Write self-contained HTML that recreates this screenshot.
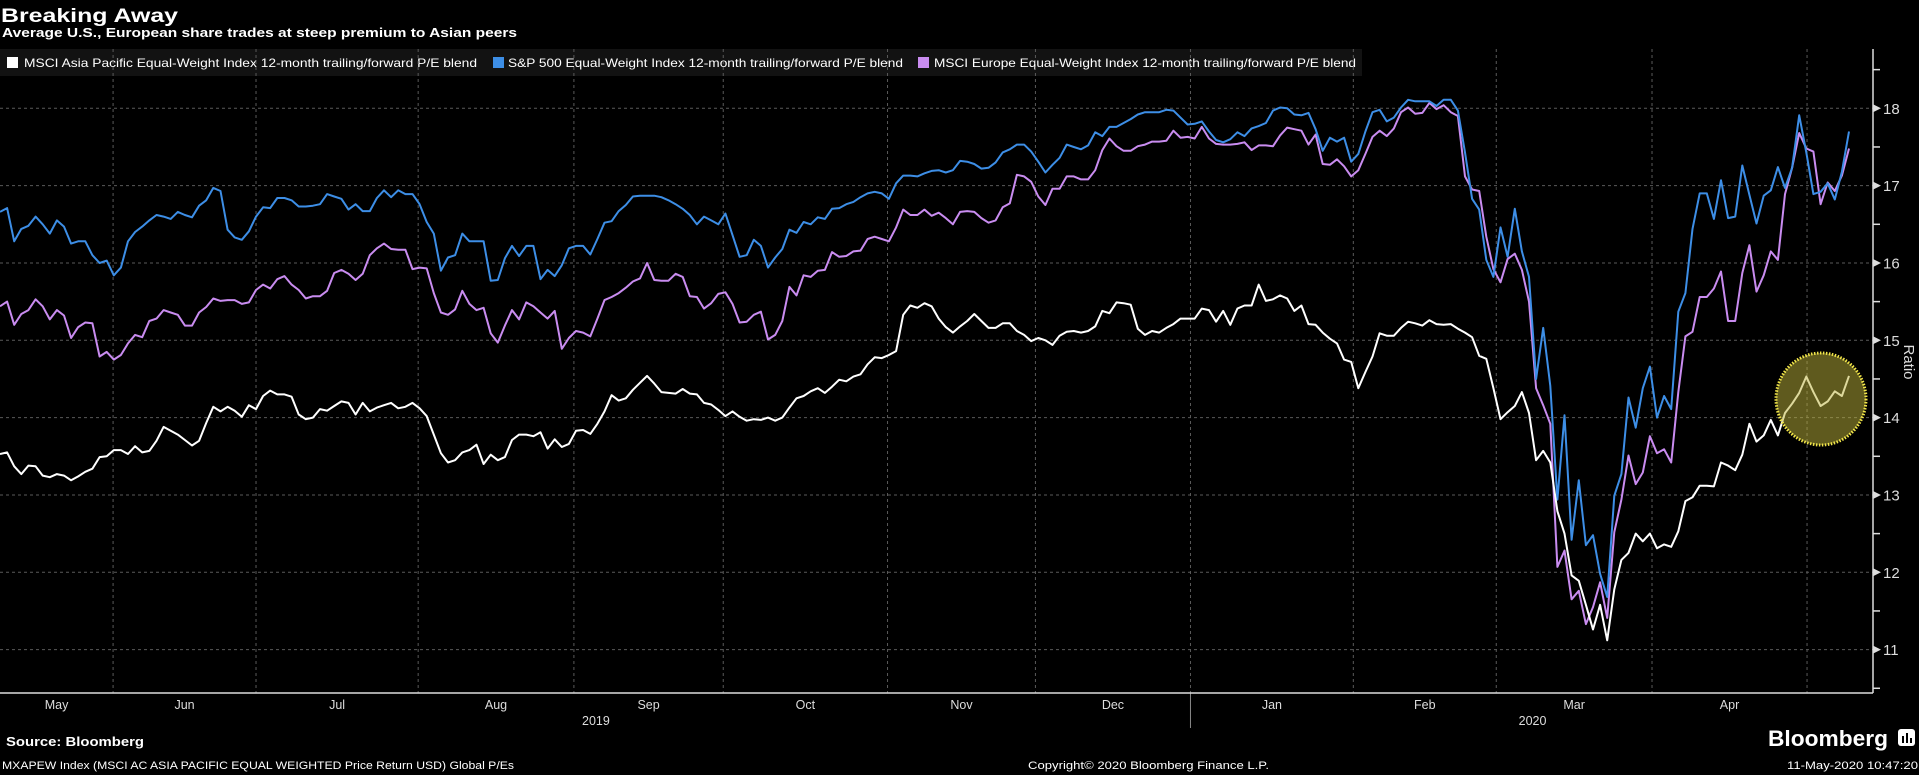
<!DOCTYPE html>
<html><head><meta charset="utf-8"><style>
html,body{margin:0;padding:0;background:#000;}
svg{display:block;}
text{font-family:"Liberation Sans",sans-serif;}
</style></head><body>
<svg id="chart" xmlns="http://www.w3.org/2000/svg" width="1919" height="775" viewBox="0 0 1919 775">
<rect x="0" y="0" width="1919" height="775" fill="#000"/>
<text x="1" y="22" font-size="19" font-weight="bold" fill="#fff" textLength="177" lengthAdjust="spacingAndGlyphs">Breaking Away</text>
<text x="2" y="37" font-size="12.5" font-weight="bold" fill="#fff" textLength="515" lengthAdjust="spacingAndGlyphs">Average U.S., European share trades at steep premium to Asian peers</text>
<g>
<rect x="0" y="49" width="1362" height="27" fill="#121212"/>
<g>
<rect x="7" y="57" width="11" height="11" fill="#fff"/>
<text x="24" y="67" font-size="12" fill="#fff" textLength="453" lengthAdjust="spacingAndGlyphs">MSCI Asia Pacific Equal-Weight Index 12-month trailing/forward P/E blend</text></g>
<g>
<rect x="493" y="57" width="11" height="11" fill="#3d8ee6"/>
<text x="508" y="67" font-size="12" fill="#fff" textLength="395" lengthAdjust="spacingAndGlyphs">S&amp;P 500 Equal-Weight Index 12-month trailing/forward P/E blend</text></g>
<g>
<rect x="918" y="57" width="11" height="11" fill="#c98cf0"/>
<text x="934" y="67" font-size="12" fill="#fff" textLength="422" lengthAdjust="spacingAndGlyphs">MSCI Europe Equal-Weight Index 12-month trailing/forward P/E blend</text></g>
</g>
<g id="grid"></g>
<g id="series"></g>
<g id="axes"></g>
<ellipse cx="1821" cy="399" rx="45" ry="46" fill="rgba(190,180,60,0.5)" stroke="#f2e64a" stroke-width="3" stroke-dasharray="1.5,1.5"/>
<text x="6" y="746" font-size="13" font-weight="bold" fill="#fff" textLength="138" lengthAdjust="spacingAndGlyphs">Source: Bloomberg</text>
<text x="1768" y="746" font-size="22" font-weight="bold" fill="#fff" textLength="120" lengthAdjust="spacingAndGlyphs">Bloomberg</text>
<g><rect x="1898" y="729" width="17" height="17" rx="3" fill="#fff"/><rect x="1902" y="736" width="2" height="7" fill="#000"/><rect x="1906" y="733" width="2" height="10" fill="#000"/><rect x="1910" y="738" width="2" height="5" fill="#000"/></g>
<text x="2" y="769" font-size="11" fill="#fff" textLength="512" lengthAdjust="spacingAndGlyphs">MXAPEW Index (MSCI AC ASIA PACIFIC EQUAL WEIGHTED Price Return USD) Global P/Es</text>
<text x="1028" y="769" font-size="11" fill="#fff" textLength="241" lengthAdjust="spacingAndGlyphs">Copyright© 2020 Bloomberg Finance L.P.</text>
<text x="1787" y="769" font-size="11" fill="#fff" textLength="131" lengthAdjust="spacingAndGlyphs">11-May-2020 10:47:20</text>
</svg>
<script>
const asiaValues = [13.53,13.55,13.37,13.27,13.38,13.37,13.25,13.23,13.27,13.25,13.19,13.24,13.3,13.34,13.49,13.5,13.58,13.58,13.53,13.63,13.55,13.57,13.7,13.88,13.83,13.78,13.71,13.64,13.7,13.93,14.14,14.08,14.14,14.09,14.01,14.16,14.11,14.28,14.35,14.3,14.3,14.27,14.04,13.98,14.0,14.11,14.09,14.15,14.21,14.19,14.04,14.19,14.08,14.13,14.16,14.19,14.12,14.14,14.19,14.12,14.02,13.78,13.54,13.42,13.45,13.55,13.58,13.65,13.4,13.52,13.45,13.49,13.71,13.78,13.78,13.76,13.81,13.6,13.72,13.62,13.66,13.83,13.84,13.79,13.92,14.08,14.29,14.22,14.25,14.36,14.45,14.54,14.44,14.33,14.32,14.31,14.37,14.31,14.3,14.19,14.17,14.1,14.02,14.08,14.01,13.96,13.98,13.97,14.0,13.96,14.0,14.13,14.25,14.28,14.34,14.38,14.32,14.4,14.49,14.47,14.53,14.56,14.69,14.78,14.77,14.81,14.86,15.33,15.45,15.42,15.48,15.44,15.28,15.17,15.1,15.18,15.25,15.34,15.25,15.16,15.16,15.22,15.22,15.12,15.07,14.99,15.03,15.0,14.94,15.06,15.11,15.12,15.1,15.12,15.18,15.38,15.35,15.49,15.48,15.46,15.15,15.07,15.12,15.1,15.16,15.21,15.28,15.28,15.28,15.41,15.39,15.24,15.38,15.2,15.41,15.45,15.45,15.72,15.51,15.53,15.58,15.54,15.38,15.45,15.21,15.2,15.1,15.02,14.96,14.75,14.72,14.38,14.59,14.79,15.09,15.06,15.06,15.16,15.24,15.22,15.19,15.26,15.21,15.2,15.21,15.15,15.1,15.04,14.8,14.76,14.38,13.98,14.07,14.15,14.33,14.06,13.45,13.57,13.42,12.79,12.5,11.96,11.89,11.58,11.26,11.58,11.12,11.78,12.16,12.25,12.5,12.4,12.5,12.31,12.36,12.33,12.53,12.92,12.97,13.12,13.12,13.11,13.42,13.38,13.32,13.52,13.92,13.69,13.77,13.97,13.77,14.06,14.18,14.32,14.53,14.33,14.15,14.21,14.34,14.28,14.54];
const sp500Values = [16.66,16.71,16.28,16.44,16.48,16.6,16.5,16.38,16.55,16.47,16.25,16.28,16.28,16.1,16.0,16.03,15.84,15.94,16.28,16.4,16.47,16.55,16.62,16.6,16.57,16.66,16.62,16.59,16.74,16.81,16.97,16.93,16.43,16.33,16.3,16.41,16.6,16.72,16.71,16.84,16.84,16.81,16.73,16.73,16.74,16.76,16.89,16.86,16.83,16.69,16.76,16.67,16.67,16.84,16.94,16.85,16.94,16.89,16.89,16.76,16.53,16.38,15.9,16.07,16.1,16.38,16.28,16.28,16.28,15.77,15.78,16.06,16.22,16.09,16.22,16.22,15.79,15.91,15.83,15.97,16.19,16.22,16.22,16.11,16.31,16.52,16.54,16.67,16.75,16.86,16.87,16.87,16.87,16.85,16.81,16.76,16.7,16.62,16.5,16.6,16.55,16.5,16.64,16.36,16.08,16.1,16.3,16.22,15.94,16.07,16.18,16.43,16.39,16.53,16.5,16.59,16.57,16.7,16.71,16.76,16.79,16.85,16.9,16.92,16.9,16.83,17.03,17.13,17.13,17.12,17.16,17.19,17.2,17.17,17.2,17.32,17.31,17.28,17.22,17.23,17.3,17.43,17.47,17.53,17.53,17.44,17.31,17.17,17.27,17.36,17.53,17.5,17.47,17.52,17.69,17.64,17.76,17.76,17.81,17.86,17.92,17.95,17.95,17.95,17.98,17.97,17.88,17.79,17.8,17.83,17.7,17.59,17.56,17.6,17.69,17.64,17.74,17.77,17.81,17.97,18.01,18.0,17.92,17.91,17.94,17.73,17.45,17.62,17.57,17.62,17.31,17.41,17.7,17.95,17.98,17.83,17.88,18.01,18.11,18.09,18.09,18.09,18.03,18.11,18.11,17.97,17.43,16.83,16.69,16.04,15.82,16.46,16.08,16.7,16.15,15.82,14.5,15.16,14.41,12.94,14.03,12.42,13.19,12.35,12.48,11.98,11.68,12.99,13.27,14.26,13.87,14.38,14.66,14.0,14.28,14.11,15.37,15.61,16.44,16.9,16.9,16.57,17.07,16.58,16.6,17.26,16.88,16.51,16.87,16.94,17.24,16.97,17.23,17.91,17.43,16.89,16.92,17.03,16.82,17.18,17.7];
const europeValues = [15.44,15.5,15.2,15.34,15.39,15.53,15.44,15.27,15.39,15.32,15.03,15.17,15.23,15.22,14.79,14.85,14.75,14.81,14.96,15.07,15.04,15.25,15.28,15.39,15.36,15.33,15.19,15.19,15.36,15.43,15.54,15.51,15.52,15.52,15.47,15.49,15.65,15.72,15.67,15.79,15.83,15.72,15.65,15.54,15.57,15.57,15.64,15.87,15.91,15.86,15.78,15.86,16.1,16.19,16.25,16.18,16.17,16.17,15.92,15.94,15.93,15.61,15.36,15.33,15.4,15.64,15.47,15.39,15.42,15.09,14.97,15.19,15.39,15.27,15.49,15.44,15.36,15.28,15.38,14.89,15.03,15.12,15.1,15.05,15.28,15.52,15.56,15.61,15.68,15.76,15.8,16.0,15.78,15.77,15.77,15.86,15.82,15.57,15.56,15.41,15.48,15.6,15.62,15.47,15.23,15.24,15.33,15.37,15.01,15.07,15.25,15.69,15.58,15.84,15.82,15.9,15.91,16.14,16.08,16.09,16.15,16.16,16.31,16.34,16.31,16.28,16.46,16.69,16.62,16.62,16.69,16.61,16.65,16.58,16.5,16.66,16.67,16.66,16.58,16.52,16.55,16.72,16.77,17.14,17.12,17.05,16.86,16.75,16.96,16.96,17.12,17.12,17.08,17.08,17.2,17.46,17.61,17.51,17.45,17.45,17.51,17.53,17.57,17.57,17.58,17.71,17.62,17.63,17.61,17.76,17.61,17.54,17.53,17.53,17.54,17.56,17.46,17.52,17.52,17.51,17.65,17.75,17.73,17.71,17.53,17.66,17.28,17.27,17.34,17.25,17.12,17.2,17.41,17.63,17.71,17.64,17.74,17.95,18.01,17.93,17.94,18.07,17.99,18.04,17.95,17.9,17.12,16.95,16.93,16.34,15.92,15.75,16.05,16.12,15.91,15.5,14.38,14.16,13.92,12.07,12.28,11.65,11.76,11.33,11.55,11.87,11.41,12.52,12.94,13.51,13.14,13.29,13.76,13.54,13.59,13.42,14.33,15.05,15.11,15.56,15.56,15.67,15.89,15.25,15.25,15.87,16.23,15.63,15.84,16.15,16.04,16.89,17.23,17.68,17.48,17.44,16.76,17.04,16.93,17.13,17.48];
const yTicks = [11,12,13,14,15,16,17,18];
const monthLabels = ["May","Jun","Jul","Aug","Sep","Oct","Nov","Dec","Jan","Feb","Mar","Apr"];
const monthTickDays = [15.9,36,58.8,80.7,101.7,124.8,145.6,167.4,190.3,210.4,232.3,254.1];
const yearLabels = ["2019","2020"];
const yearCenterDays = [83.8,215.5];
const yearBoundaryDay = 167.4;

const NS = "http://www.w3.org/2000/svg";
const plotLeft = 0, plotRight = 1873, plotTop = 49, plotBottom = 693;
const nDays = 261;
function xScale(d){ return d * (1849 / (nDays - 1)); }
function yScale(v){ return 108.3 + (18 - v) * 77.33; }
function mk(tag, attrs, parent){ const e = document.createElementNS(NS, tag); for (const k in attrs) e.setAttribute(k, attrs[k]); parent.appendChild(e); return e; }

const grid = document.getElementById('grid');
const axes = document.getElementById('axes');
const series = document.getElementById('series');

yTicks.forEach(v => {
  const y = yScale(v);
  const g = mk('line', {x1: plotLeft, x2: plotRight, y1: y, y2: y, stroke: '#5a5a5a', 'stroke-width': 1, 'stroke-dasharray': '3,3'}, grid);
  
  
  const t = mk('path', {d: `M${plotRight} ${y-4} L${plotRight+8} ${y} L${plotRight} ${y+4} Z`, fill: '#ddd'}, axes);
  
  
  const lbl = mk('text', {x: plotRight + 10, y: y + 5.5, 'font-size': 15, fill: '#ddd'}, axes);
  lbl.textContent = String(v);
  
  
  const my = yScale(v + 0.5);
  if (my > plotTop) {
    const m = mk('line', {x1: plotRight, x2: plotRight + 7, y1: my, y2: my, stroke: '#ddd', 'stroke-width': 1.5}, axes);
    
    
  }
});
const m0 = mk('line', {x1: plotRight, x2: plotRight + 7, y1: yScale(10.5), y2: yScale(10.5), stroke: '#ddd', 'stroke-width': 1.5}, axes);



monthTickDays.forEach(d => {
  const x = xScale(d);
  const g = mk('line', {x1: x, x2: x, y1: plotTop, y2: plotBottom, stroke: '#5a5a5a', 'stroke-width': 1, 'stroke-dasharray': '3,3'}, grid);
  
  
});
monthLabels.forEach((m, i) => {
  const a = i === 0 ? 0 : xScale(monthTickDays[i - 1]);
  const b = xScale(monthTickDays[i]);
  const t = mk('text', {x: (a + b) / 2, y: 709, 'font-size': 12.5, fill: '#ddd', 'text-anchor': 'middle'}, axes);
  t.textContent = m;
  
  
});
yearLabels.forEach((yl, i) => {
  const t = mk('text', {x: xScale(yearCenterDays[i]), y: 725, 'font-size': 12.5, fill: '#ddd', 'text-anchor': 'middle'}, axes);
  t.textContent = yl;
  
  
});
const sep = mk('line', {x1: xScale(yearBoundaryDay), x2: xScale(yearBoundaryDay), y1: plotBottom, y2: 728, stroke: '#888', 'stroke-width': 1}, axes);


const xa = mk('line', {x1: 0, x2: plotRight, y1: plotBottom, y2: plotBottom, stroke: '#ddd', 'stroke-width': 1.5}, axes);


const ya = mk('line', {x1: plotRight, x2: plotRight, y1: plotTop, y2: plotBottom, stroke: '#ddd', 'stroke-width': 1.5}, axes);


const yt = mk('text', {x: 1904, y: 362, 'font-size': 15, fill: '#ddd', 'text-anchor': 'middle', transform: 'rotate(90 1904 362)'}, axes);
yt.textContent = 'Ratio';



function drawLine(vals, color, name){
  const d = vals.map((v, i) => (i ? 'L' : 'M') + xScale(i).toFixed(1) + ' ' + yScale(v).toFixed(1)).join(' ');
  const p = mk('path', {d: d, fill: 'none', stroke: color, 'stroke-width': 2, 'stroke-linejoin': 'round'}, series);
  
  
}
drawLine(europeValues, '#c98cf0', 'line-europe');
drawLine(sp500Values, '#3d8ee6', 'line-sp500');
drawLine(asiaValues, '#ffffff', 'line-asia');
</script>
</body></html>
